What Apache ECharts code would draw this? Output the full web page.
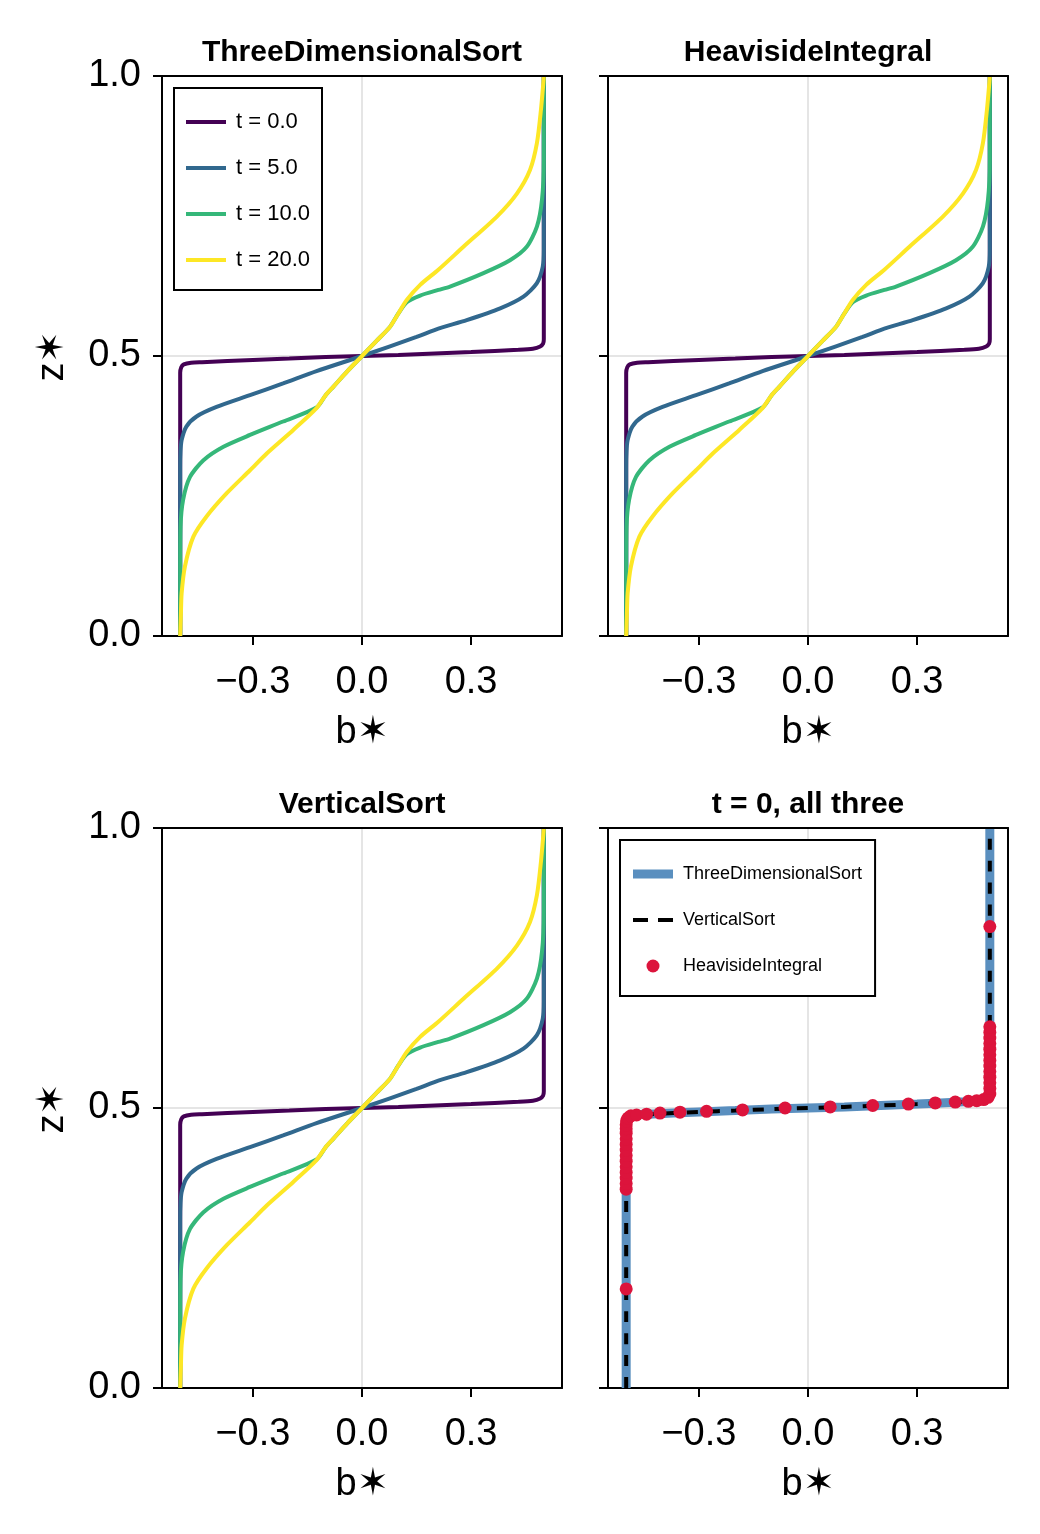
<!DOCTYPE html>
<html>
<head>
<meta charset="utf-8">
<title>Sorted buoyancy profiles</title>
<script src="https://cdn.jsdelivr.net/npm/echarts@6/dist/echarts.min.js"></script>
<style>
  html, body { margin: 0; padding: 0; background: #fff; }
  #main { width: 1040px; height: 1534px; }
</style>
</head>
<body>
<div id="main"></div>
<script>
// [b*, z*] pairs, bottom to top
const t0Profile = [[-0.5, 0], [-0.5, 0.47], [-0.497, 0.48], [-0.49, 0.485], [-0.47, 0.488], [-0.44, 0.489],
  [-0.3, 0.493], [-0.2, 0.4955], [-0.1, 0.498], [0, 0.5], [0.1, 0.502], [0.2, 0.5045], [0.3, 0.507],
  [0.43, 0.511], [0.47, 0.513], [0.49, 0.517], [0.498, 0.522], [0.5, 0.53], [0.5, 1]];
const t5Profile = [[-0.5, 0], [-0.5, 0.3], [-0.499, 0.33], [-0.496, 0.35], [-0.483, 0.374], [-0.455, 0.392],
  [-0.4, 0.409], [-0.308, 0.43], [-0.217, 0.451], [-0.125, 0.473], [0, 0.5], [0.15, 0.534], [0.21, 0.549],
  [0.288, 0.564], [0.38, 0.585], [0.444, 0.606], [0.481, 0.63], [0.497, 0.659], [0.5, 0.69], [0.5, 1]];
const t10Profile = [[-0.5, 0], [-0.5, 0.11], [-0.499, 0.195], [-0.492, 0.243], [-0.473, 0.284], [-0.436, 0.314],
  [-0.381, 0.338], [-0.308, 0.359], [-0.217, 0.383], [-0.125, 0.408], [-0.1, 0.43], [-0.079, 0.445],
  [-0.04, 0.473], [0, 0.5], [0.04, 0.527], [0.077, 0.552], [0.1, 0.576], [0.123, 0.596], [0.16, 0.608],
  [0.21, 0.618], [0.242, 0.624], [0.334, 0.648], [0.407, 0.671], [0.453, 0.695], [0.481, 0.731],
  [0.495, 0.779], [0.5, 0.85], [0.5, 1]];
const t20Profile = [[-0.5, 0], [-0.498, 0.04], [-0.496, 0.076], [-0.487, 0.124], [-0.464, 0.177], [-0.428, 0.213],
  [-0.372, 0.255], [-0.308, 0.296], [-0.262, 0.326], [-0.189, 0.368], [-0.125, 0.407], [-0.1, 0.43],
  [-0.079, 0.445], [-0.04, 0.473], [0, 0.5], [0.04, 0.527], [0.077, 0.552], [0.1, 0.576], [0.123, 0.6],
  [0.16, 0.627], [0.21, 0.654], [0.279, 0.695], [0.371, 0.749], [0.426, 0.79], [0.462, 0.832],
  [0.481, 0.88], [0.492, 0.939], [0.499, 0.99], [0.5, 1]];

// HeavisideIntegral samples at t = 0 (last panel)
const heavisideDots = [[-0.5, 0.177],
  [-0.5, 0.355], [-0.5, 0.365], [-0.5, 0.375], [-0.5, 0.385], [-0.5, 0.395], [-0.5, 0.405], [-0.5, 0.415],
  [-0.5, 0.425], [-0.5, 0.435], [-0.5, 0.445], [-0.5, 0.455], [-0.5, 0.463], [-0.5, 0.47], [-0.499, 0.477],
  [-0.495, 0.482], [-0.487, 0.486], [-0.4715, 0.4875], [-0.444, 0.489], [-0.407, 0.491], [-0.352, 0.4925],
  [-0.279, 0.494], [-0.18, 0.4965], [-0.063, 0.5], [0.061, 0.502], [0.178, 0.5045], [0.276, 0.507],
  [0.35, 0.509], [0.405, 0.5105], [0.441, 0.512], [0.464, 0.513], [0.483, 0.515], [0.495, 0.519],
  [0.5, 0.525], [0.5, 0.535], [0.5, 0.545], [0.5, 0.555], [0.5, 0.565], [0.5, 0.575], [0.5, 0.585],
  [0.5, 0.595], [0.5, 0.605], [0.5, 0.615], [0.5, 0.625], [0.5, 0.635], [0.5, 0.645],
  [0.5, 0.824]];

const timeNames = ['t = 0.0', 't = 5.0', 't = 10.0', 't = 20.0'];
const timeColors = ['#440154', '#31688e', '#35b779', '#fde725'];
const timeProfiles = [t0Profile, t5Profile, t10Profile, t20Profile];
const panelTitles = ['ThreeDimensionalSort', 'HeavisideIntegral', 'VerticalSort', 't = 0, all three'];
const xTicks = [-0.3, 0, 0.3];
const yTicks = [0, 0.5, 1];

const font = '"Liberation Sans", Arial, Helvetica, sans-serif';
const panels = [
  { left: 162, top: 76 }, { left: 608, top: 76 },
  { left: 162, top: 828 }, { left: 608, top: 828 }
];
const panelW = 400, panelH = 560;
const frame = { show: true, onZero: false, lineStyle: { color: '#000', width: 2 } };
const tickStyle = { color: '#000', width: 2 };
const gridLine = { show: true, showMinLine: false, showMaxLine: false, lineStyle: { color: '#dcdcdc', width: 1.5 } };

let myChart = echarts.init(document.getElementById('main'));

let grids = panels.map(p => ({
  left: p.left, top: p.top, width: panelW, height: panelH,
  show: false, outerBoundsMode: 'none'
}));

let xAxes = panels.map((p, i) => ({
  gridIndex: i, type: 'value', min: -0.55, max: 0.55,
  name: 'b✶', nameLocation: 'middle', nameGap: 78,
  nameTextStyle: { fontSize: 38, color: '#000', fontFamily: font },
  axisLine: frame,
  axisTick: { show: true, length: 9, customValues: xTicks, lineStyle: tickStyle },
  axisLabel: {
    customValues: xTicks, fontSize: 38, color: '#000', fontFamily: font, margin: 28,
    formatter: v => (v < 0 ? '\u2212' : '') + Math.abs(v).toFixed(1)
  },
  splitLine: gridLine
}));
// top edges of the frames
panels.forEach((p, i) => xAxes.push({
  gridIndex: i, type: 'value', position: 'top', min: -0.55, max: 0.55, z: 5,
  axisLine: frame, axisTick: { show: false }, axisLabel: { show: false }, splitLine: { show: false }
}));

let yAxes = panels.map((p, i) => ({
  gridIndex: i, type: 'value', min: 0, max: 1, interval: 0.5,
  name: i % 2 === 0 ? 'z✶' : '', nameLocation: 'middle', nameGap: 90,
  nameTextStyle: { fontSize: 38, color: '#000', fontFamily: font },
  axisLine: frame,
  axisTick: { show: true, length: 9, lineStyle: tickStyle },
  axisLabel: {
    show: i % 2 === 0, fontSize: 38, color: '#000', fontFamily: font, margin: 21,
    formatter: v => v.toFixed(1)
  },
  splitLine: gridLine
}));
// right edges of the frames
panels.forEach((p, i) => yAxes.push({
  gridIndex: i, type: 'value', position: 'right', min: 0, max: 1, z: 5,
  axisLine: frame, axisTick: { show: false }, axisLabel: { show: false }, splitLine: { show: false }
}));

let titles = panels.map((p, i) => ({
  text: panelTitles[i], left: p.left + panelW / 2, top: p.top - 38, padding: 0,
  textAlign: 'center',
  textStyle: { fontSize: 30, fontWeight: 'bold', color: '#000', fontFamily: font }
}));

// time-evolution panels: same profiles in the first three panels
let series = [];
[0, 1, 2].forEach(g => {
  timeProfiles.forEach((prof, k) => {
    series.push({
      name: timeNames[k], type: 'line', xAxisIndex: g, yAxisIndex: g,
      data: prof, showSymbol: false, symbol: 'none', smooth: 0.25, z: 2 + k * 0.1,
      lineStyle: { color: timeColors[k], width: 4 }, itemStyle: { color: timeColors[k] }
    });
  });
});

// comparison panel
series.push({
  name: 'ThreeDimensionalSort', type: 'line', xAxisIndex: 3, yAxisIndex: 3,
  data: t0Profile, showSymbol: false, symbol: 'none', smooth: 0.25, z: 2,
  lineStyle: { color: '#5a8fbf', width: 9 }, itemStyle: { color: '#5a8fbf' }
});
series.push({
  name: 'VerticalSort', type: 'line', xAxisIndex: 3, yAxisIndex: 3,
  data: t0Profile, showSymbol: false, symbol: 'none', smooth: 0.25, z: 3,
  lineStyle: { color: '#000', width: 4, type: [11, 11] }, itemStyle: { color: '#000' }
});
series.push({
  name: 'HeavisideIntegral', type: 'scatter', xAxisIndex: 3, yAxisIndex: 3,
  data: heavisideDots, symbol: 'circle', symbolSize: 13, z: 4,
  itemStyle: { color: '#dc143c', opacity: 1 }
});

let option = {
  backgroundColor: '#fff',
  animation: false,
  title: titles,
  grid: grids,
  xAxis: xAxes,
  yAxis: yAxes,
  legend: [
    {
      left: 174, top: 88, orient: 'vertical', z: 6,
      data: timeNames.map(n => ({ name: n, icon: 'rect', itemStyle: { borderWidth: 0 } })),
      itemWidth: 40, itemHeight: 4, itemGap: 22,
      padding: [22, 12, 18, 12],
      borderColor: '#000', borderWidth: 2, backgroundColor: '#fff',
      selectedMode: false,
      textStyle: { fontSize: 22, lineHeight: 24, color: '#000', fontFamily: font, padding: [0, 0, 0, 5] }
    },
    {
      left: 620, top: 840, orient: 'vertical', z: 6,
      data: [
        { name: 'ThreeDimensionalSort', icon: 'path://M0,0h40v9h-40z', itemStyle: { borderWidth: 0 } },
        { name: 'VerticalSort', icon: 'path://M0,0h15v4h-15zM25,0h15v4h-15z', itemStyle: { borderWidth: 0 } },
        { name: 'HeavisideIntegral', icon: 'circle', itemStyle: { borderWidth: 0 } }
      ],
      itemWidth: 40, itemHeight: 13, itemGap: 26,
      padding: [24, 13, 20, 13],
      borderColor: '#000', borderWidth: 2, backgroundColor: '#fff',
      selectedMode: false,
      textStyle: { fontSize: 18, lineHeight: 20, color: '#000', fontFamily: font, padding: [0, 0, 0, 5] }
    }
  ],
  series: series
};
myChart.setOption(option);
</script>
</body>
</html>
